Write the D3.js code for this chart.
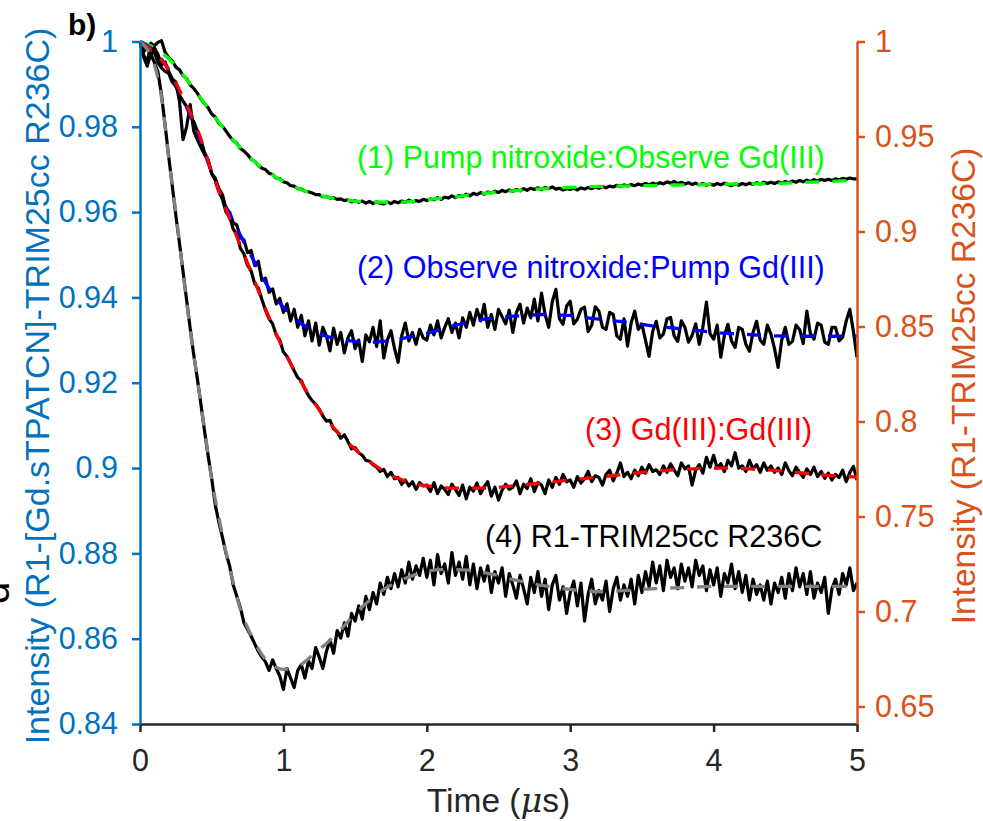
<!DOCTYPE html>
<html>
<head>
<meta charset="utf-8">
<script src="https://cdn.jsdelivr.net/npm/d3@7"></script>
<style>
  html, body { margin: 0; padding: 0; background: #fff; }
  #chart svg { display: block; font-family: "Liberation Sans", Arial, Helvetica, sans-serif; }
</style>
</head>
<body>
<div id="chart"></div>
<script>
// ---------------------------------------------------------------------------
// DATA
// ---------------------------------------------------------------------------

// sampling grid of the measured traces, in µs (one row below = 0.2 µs)
const traceTime = d3.range(0, 5.0001, 0.025);

// (1) Pump nitroxide:Observe Gd(III) - left axis
const trace1 = [
  1.0000, 0.9992, 0.9985, 0.9996, 0.9990, 0.9998, 1.0002, 0.9975,
  0.9962, 0.9955, 0.9940, 0.9934, 0.9920, 0.9913, 0.9898, 0.9890,
  0.9879, 0.9865, 0.9854, 0.9845, 0.9830, 0.9823, 0.9808, 0.9801,
  0.9790, 0.9778, 0.9768, 0.9762, 0.9749, 0.9743, 0.9735, 0.9724,
  0.9719, 0.9710, 0.9703, 0.9700, 0.9691, 0.9688, 0.9680, 0.9678,
  0.9671, 0.9669, 0.9662, 0.9661, 0.9655, 0.9654, 0.9649, 0.9648,
  0.9645, 0.9641, 0.9641, 0.9636, 0.9637, 0.9633, 0.9634, 0.9630,
  0.9631, 0.9627, 0.9629, 0.9624, 0.9627, 0.9623, 0.9626, 0.9621,
  0.9625, 0.9620, 0.9624, 0.9621, 0.9619, 0.9624, 0.9620, 0.9625,
  0.9622, 0.9626, 0.9623, 0.9628, 0.9624, 0.9627, 0.9625, 0.9630,
  0.9627, 0.9631, 0.9629, 0.9634, 0.9630, 0.9635, 0.9633, 0.9638,
  0.9634, 0.9639, 0.9637, 0.9642, 0.9638, 0.9644, 0.9641, 0.9646,
  0.9642, 0.9647, 0.9645, 0.9649, 0.9646, 0.9651, 0.9648, 0.9652,
  0.9649, 0.9653, 0.9650, 0.9655, 0.9651, 0.9656, 0.9653, 0.9657,
  0.9653, 0.9658, 0.9655, 0.9659, 0.9654, 0.9656, 0.9652, 0.9655,
  0.9653, 0.9656, 0.9652, 0.9657, 0.9654, 0.9658, 0.9655, 0.9659,
  0.9656, 0.9660, 0.9657, 0.9661, 0.9659, 0.9663, 0.9660, 0.9664,
  0.9661, 0.9665, 0.9662, 0.9666, 0.9663, 0.9667, 0.9664, 0.9668,
  0.9665, 0.9669, 0.9666, 0.9671, 0.9668, 0.9672, 0.9667, 0.9670,
  0.9666, 0.9669, 0.9665, 0.9668, 0.9664, 0.9667, 0.9663, 0.9666,
  0.9663, 0.9667, 0.9664, 0.9668, 0.9665, 0.9662, 0.9666, 0.9663,
  0.9667, 0.9664, 0.9668, 0.9665, 0.9669, 0.9666, 0.9670, 0.9667,
  0.9670, 0.9667, 0.9671, 0.9668, 0.9672, 0.9669, 0.9673, 0.9670,
  0.9674, 0.9671, 0.9675, 0.9672, 0.9676, 0.9673, 0.9677, 0.9674,
  0.9677, 0.9674, 0.9678, 0.9676, 0.9679, 0.9677, 0.9680, 0.9678,
  0.9678
];

// (2) Observe nitroxide:Pump Gd(III) - left axis
const trace2 = [
  1.0000, 0.9975, 0.9990, 0.9962, 0.9985, 0.9970, 0.9945, 0.9952,
  0.9930, 0.9912, 0.9905, 0.9860, 0.9770, 0.9800, 0.9852, 0.9790,
  0.9770, 0.9752, 0.9735, 0.9722, 0.9690, 0.9680, 0.9655, 0.9641,
  0.9608, 0.9600, 0.9575, 0.9570, 0.9540, 0.9535, 0.9505, 0.9510,
  0.9475, 0.9485, 0.9440, 0.9445, 0.9412, 0.9420, 0.9385, 0.9398,
  0.9365, 0.9385, 0.9345, 0.9372, 0.9330, 0.9358, 0.9310, 0.9345,
  0.9298, 0.9340, 0.9288, 0.9330, 0.9310, 0.9275, 0.9328, 0.9290,
  0.9318, 0.9270, 0.9305, 0.9322, 0.9280, 0.9300, 0.9250, 0.9312,
  0.9296, 0.9330, 0.9285, 0.9345, 0.9258, 0.9300, 0.9322, 0.9280,
  0.9248, 0.9310, 0.9340, 0.9298, 0.9318, 0.9290, 0.9325, 0.9305,
  0.9300, 0.9335, 0.9312, 0.9345, 0.9305, 0.9330, 0.9350, 0.9318,
  0.9340, 0.9305, 0.9352, 0.9330, 0.9365, 0.9335, 0.9372, 0.9345,
  0.9384, 0.9330, 0.9360, 0.9325, 0.9372, 0.9355, 0.9338, 0.9370,
  0.9318, 0.9365, 0.9384, 0.9340, 0.9375, 0.9352, 0.9396, 0.9345,
  0.9410, 0.9360, 0.9330, 0.9390, 0.9419, 0.9350, 0.9337, 0.9380,
  0.9391, 0.9338, 0.9349, 0.9372, 0.9377, 0.9320, 0.9335, 0.9378,
  0.9368, 0.9330, 0.9325, 0.9365, 0.9360, 0.9310, 0.9302, 0.9350,
  0.9286, 0.9340, 0.9368, 0.9325, 0.9337, 0.9300, 0.9262, 0.9320,
  0.9344, 0.9305, 0.9314, 0.9350, 0.9353, 0.9310, 0.9297, 0.9345,
  0.9330, 0.9295, 0.9311, 0.9338, 0.9290, 0.9330, 0.9389, 0.9315,
  0.9302, 0.9335, 0.9260, 0.9310, 0.9337, 0.9298, 0.9283, 0.9330,
  0.9325, 0.9290, 0.9274, 0.9318, 0.9344, 0.9300, 0.9290, 0.9335,
  0.9314, 0.9280, 0.9236, 0.9300, 0.9330, 0.9290, 0.9297, 0.9335,
  0.9325, 0.9292, 0.9368, 0.9315, 0.9302, 0.9340, 0.9335, 0.9295,
  0.9290, 0.9330, 0.9330, 0.9298, 0.9307, 0.9345, 0.9372, 0.9320,
  0.9260
];

// (3) Gd(III):Gd(III) - left axis
const trace3 = [
  1.0000, 0.9968, 0.9953, 0.9990, 0.9977, 0.9950, 0.9938, 0.9930,
  0.9925, 0.9905, 0.9895, 0.9875, 0.9860, 0.9848, 0.9826, 0.9812,
  0.9790, 0.9768, 0.9740, 0.9722, 0.9690, 0.9675, 0.9648, 0.9630,
  0.9600, 0.9590, 0.9560, 0.9548, 0.9515, 0.9502, 0.9475, 0.9462,
  0.9432, 0.9422, 0.9395, 0.9370, 0.9350, 0.9338, 0.9312, 0.9300,
  0.9272, 0.9262, 0.9245, 0.9228, 0.9212, 0.9205, 0.9185, 0.9170,
  0.9158, 0.9150, 0.9138, 0.9122, 0.9110, 0.9112, 0.9092, 0.9085,
  0.9070, 0.9078, 0.9062, 0.9045, 0.9048, 0.9036, 0.9030, 0.9018,
  0.9016, 0.9008, 0.9002, 0.8992, 0.8997, 0.8980, 0.8990, 0.8975,
  0.8978, 0.8962, 0.8972, 0.8958, 0.8968, 0.8950, 0.8966, 0.8958,
  0.8960, 0.8945, 0.8966, 0.8940, 0.8958, 0.8950, 0.8938, 0.8962,
  0.8950, 0.8936, 0.8960, 0.8928, 0.8955, 0.8946, 0.8965, 0.8940,
  0.8956, 0.8968, 0.8934, 0.8955, 0.8925, 0.8948, 0.8962, 0.8950,
  0.8955, 0.8970, 0.8940, 0.8962, 0.8952, 0.8975, 0.8945, 0.8966,
  0.8960, 0.8940, 0.8972, 0.8955, 0.8978, 0.8962, 0.8985, 0.8968,
  0.8972, 0.8955, 0.8980, 0.8965, 0.8975, 0.8992, 0.8968, 0.8982,
  0.8978, 0.8960, 0.8985, 0.8995, 0.8970, 0.8988, 0.9012, 0.8980,
  0.8990, 0.8975, 0.8995, 0.8982, 0.9002, 0.8988, 0.9008, 0.8992,
  0.8996, 0.8985, 0.9005, 0.8990, 0.9010, 0.8995, 0.8982, 0.9012,
  0.8998, 0.9005, 0.8960, 0.8995, 0.9008, 0.8988, 0.9025, 0.9002,
  0.9030, 0.9000, 0.9010, 0.8992, 0.9018, 0.9005, 0.9036, 0.9000,
  0.9005, 0.8992, 0.9018, 0.8998, 0.9008, 0.8990, 0.9012, 0.8995,
  0.9005, 0.8990, 0.9000, 0.8985, 0.9012, 0.8994, 0.8982, 0.9002,
  0.8990, 0.8978, 0.8998, 0.8985, 0.9002, 0.8980, 0.8992, 0.8976,
  0.8988, 0.8972, 0.8985, 0.8978, 0.8995, 0.8968, 0.8990, 0.9004,
  0.8972
];

// (4) R1-TRIM25cc R236C - right axis
const trace4 = [
  1.0000, 0.9920, 0.9870, 0.9935, 0.9890, 0.9840, 0.9720, 0.9560,
  0.9395, 0.9240, 0.9085, 0.8940, 0.8790, 0.8640, 0.8490, 0.8350,
  0.8225, 0.8090, 0.7950, 0.7820, 0.7700, 0.7560, 0.7470, 0.7390,
  0.7305, 0.7240, 0.7140, 0.7080, 0.7020, 0.6940, 0.6905, 0.6870,
  0.6830, 0.6790, 0.6760, 0.6735, 0.6690, 0.6745, 0.6700, 0.6660,
  0.6590, 0.6700, 0.6650, 0.6600, 0.6690, 0.6720, 0.6650, 0.6740,
  0.6700, 0.6810, 0.6760, 0.6700, 0.6790, 0.6850, 0.6780, 0.6900,
  0.6860, 0.6940, 0.6870, 0.6990, 0.6950, 0.7030, 0.6960, 0.7080,
  0.7010, 0.7100, 0.7040, 0.7150, 0.7090, 0.7180, 0.7120, 0.7200,
  0.7130, 0.7220, 0.7150, 0.7260, 0.7170, 0.7240, 0.7190, 0.7280,
  0.7180, 0.7270, 0.7140, 0.7300, 0.7200, 0.7250, 0.7150, 0.7310,
  0.7190, 0.7260, 0.7170, 0.7290, 0.7140, 0.7250, 0.7120, 0.7230,
  0.7160, 0.7240, 0.7100, 0.7210, 0.7150, 0.7230, 0.7080, 0.7200,
  0.7140, 0.7070, 0.7190, 0.7120, 0.7040, 0.7180, 0.7100, 0.7210,
  0.7080, 0.7170, 0.7010, 0.7140, 0.7190, 0.7060, 0.7130, 0.6990,
  0.7100, 0.7160, 0.7030, 0.7150, 0.6950, 0.7090, 0.7170, 0.7040,
  0.7110, 0.7060, 0.7160, 0.7000, 0.7120, 0.7180, 0.7060, 0.7140,
  0.7080, 0.7170, 0.7040, 0.7190, 0.7100, 0.7210, 0.7130, 0.7260,
  0.7150, 0.7240, 0.7110, 0.7270, 0.7180, 0.7230, 0.7120, 0.7250,
  0.7160, 0.7230, 0.7130, 0.7270, 0.7190, 0.7240, 0.7110, 0.7220,
  0.7140, 0.7230, 0.7080, 0.7200, 0.7150, 0.7250, 0.7120, 0.7210,
  0.7100, 0.7190, 0.7060, 0.7170, 0.7090, 0.7140, 0.7060, 0.7160,
  0.7040, 0.7150, 0.7100, 0.7180, 0.7070, 0.7200, 0.7110, 0.7230,
  0.7130, 0.7200, 0.7090, 0.7210, 0.7070, 0.7150, 0.7100, 0.7180,
  0.6990, 0.7120, 0.7170, 0.7090, 0.7200, 0.7140, 0.7230, 0.7110,
  0.7150
];

// fitted curves (dashed)
const fit1Time = [0, 0.1, 0.2, 0.3, 0.4, 0.5, 0.6, 0.7, 0.8, 0.9, 1.0, 1.1, 1.2, 1.3, 1.4, 1.5, 1.6, 1.8,
  2.0, 2.2, 2.4, 2.6, 3.0, 3.5, 4.0, 4.5, 5.0];
const fit1 = [1.0000, 0.9985, 0.9960, 0.9922, 0.9878, 0.9832, 0.9789, 0.9751, 0.9718, 0.9692, 0.9672,
  0.9656, 0.9644, 0.9636, 0.9630, 0.9626, 0.9624, 0.9623, 0.9629, 0.9636, 0.9644, 0.9650, 0.9658,
  0.9662, 0.9665, 0.9668, 0.9675];

const fit2Time = [0, 0.1, 0.2, 0.3, 0.4, 0.5, 0.6, 0.7, 0.8, 0.9, 1.0, 1.1, 1.2, 1.3, 1.4, 1.5, 1.6, 1.7,
  1.8, 1.9, 2.0, 2.1, 2.2, 2.3, 2.4, 2.5, 2.6, 2.7, 2.8, 2.9, 3.0, 3.1, 3.2, 3.3, 3.4, 3.5, 3.6, 3.7,
  3.8, 3.9, 4.0, 4.2, 4.4, 4.6, 4.8, 5.0];
const fit2 = [1.0000, 0.9977, 0.9934, 0.9864, 0.9787, 0.9693, 0.9613, 0.9546, 0.9482, 0.9421, 0.9377,
  0.9345, 0.9323, 0.9309, 0.9302, 0.9297, 0.9295, 0.9297, 0.9302, 0.9309, 0.9316, 0.9325, 0.9335,
  0.9342, 0.9349, 0.9353, 0.9356, 0.9358, 0.9360, 0.9359, 0.9358, 0.9353, 0.9349, 0.9345, 0.9342,
  0.9337, 0.9332, 0.9329, 0.9325, 0.9322, 0.9318, 0.9314, 0.9310, 0.9309, 0.9309, 0.9309];

const fit3Time = [0, 0.1, 0.2, 0.3, 0.4, 0.5, 0.6, 0.7, 0.8, 0.9, 1.0, 1.1, 1.2, 1.3, 1.4, 1.5, 1.6, 1.7,
  1.8, 1.9, 2.0, 2.2, 2.4, 2.6, 2.8, 3.0, 3.2, 3.4, 3.6, 3.8, 4.0, 4.2, 4.4, 4.6, 4.8, 5.0];
const fit3 = [1.0000, 0.9974, 0.9934, 0.9869, 0.9794, 0.9695, 0.9606, 0.9522, 0.9438, 0.9353, 0.9278,
  0.9215, 0.9161, 0.9114, 0.9077, 0.9044, 0.9016, 0.8993, 0.8976, 0.8965, 0.8958, 0.8953, 0.8953,
  0.8958, 0.8965, 0.8972, 0.8979, 0.8986, 0.8993, 0.8997, 0.9000, 0.8999, 0.8995, 0.8989, 0.8983,
  0.8979];

const fit4Time = [0, 0.05, 0.1, 0.15, 0.2, 0.25, 0.3, 0.35, 0.4, 0.45, 0.5, 0.55, 0.6, 0.65, 0.7, 0.75,
  0.8, 0.85, 0.9, 0.95, 1.0, 1.05, 1.1, 1.2, 1.3, 1.4, 1.5, 1.6, 1.7, 1.8, 1.9, 2.0, 2.1, 2.2, 2.3,
  2.4, 2.5, 2.6, 2.7, 2.8, 2.9, 3.0, 3.2, 3.4, 3.6, 3.8, 4.0, 4.5, 5.0];
const fit4 = [1.0000, 0.9958, 0.9879, 0.9705, 0.9389, 0.9100, 0.8784, 0.8484, 0.8221, 0.7958, 0.7695,
  0.7495, 0.7311, 0.7153, 0.7011, 0.6916, 0.6837, 0.6774, 0.6726, 0.6705, 0.6695, 0.6700, 0.6711,
  0.6768, 0.6832, 0.6905, 0.6989, 0.7058, 0.7116, 0.7158, 0.7189, 0.7211, 0.7221, 0.7221, 0.7218,
  0.7205, 0.7189, 0.7168, 0.7153, 0.7137, 0.7126, 0.7116, 0.7105, 0.7111, 0.7121, 0.7126, 0.7132,
  0.7132, 0.7132];

// ticks
const xTicks = [0, 1, 2, 3, 4, 5];
const leftTicks = [0.84, 0.86, 0.88, 0.9, 0.92, 0.94, 0.96, 0.98, 1];
const rightTicks = [0.65, 0.7, 0.75, 0.8, 0.85, 0.9, 0.95, 1];

// curve annotations: text, anchor time, anchor value (left axis)
const noteText = ["(1) Pump nitroxide:Observe Gd(III)", "(2) Observe nitroxide:Pump Gd(III)",
  "(3) Gd(III):Gd(III)", "(4) R1-TRIM25cc R236C"];
const noteTime = [1.513, 1.513, 3.103, 2.406];
const noteValue = [0.9703, 0.9446, 0.9066, 0.8815];

// ---------------------------------------------------------------------------
// CHART
// ---------------------------------------------------------------------------
const W = 983, H = 821;
const plot = { left: 140, right: 857, top: 41.5, bottom: 724 };

const colors = {
  left: "#0072BD",
  right: "#D95319",
  axis: "#262626",
  trace: "#000000",
  fits: ["#00FF00", "#0000FF", "#FF0000", "#808080"],
  notes: ["#00FF00", "#0000FF", "#FF0000", "#000000"]
};

const svg = d3.select("#chart").append("svg")
  .attr("width", W)
  .attr("height", H);

// 1. SCALES
const x = d3.scaleLinear().domain([0, 5]).range([plot.left, plot.right]);
const yLeft = d3.scaleLinear().domain([0.84, 1]).range([plot.bottom, plot.top]);
const yRight = d3.scaleLinear().domain([0.6408, 1]).range([plot.bottom, plot.top]);

const fmt = d => String(+d.toFixed(2));

// 2. TRACES (black, noisy) then FITS (dashed) on top
const traces = [
  { v: trace4, y: yRight },
  { v: trace3, y: yLeft },
  { v: trace2, y: yLeft },
  { v: trace1, y: yLeft }
];
const fits = [
  { t: fit1Time, v: fit1, y: yLeft, c: colors.fits[0] },
  { t: fit2Time, v: fit2, y: yLeft, c: colors.fits[1] },
  { t: fit3Time, v: fit3, y: yLeft, c: colors.fits[2] },
  { t: fit4Time, v: fit4, y: yRight, c: colors.fits[3] }
];

const lineG = svg.append("g");
traces.forEach(s => {
  const line = d3.line()
    .x((d, i) => x(traceTime[i]))
    .y(d => s.y(d));
  lineG.append("path")
    .datum(s.v)
    .attr("fill", "none")
    .attr("stroke", colors.trace)
    .attr("stroke-width", 3.2)
    .attr("stroke-linejoin", "round")
    .attr("d", line);
});

fits.forEach(s => {
  const line = d3.line()
    .curve(d3.curveMonotoneX)
    .x((d, i) => x(s.t[i]))
    .y(d => s.y(d));
  lineG.append("path")
    .datum(s.v)
    .attr("fill", "none")
    .attr("stroke", s.c)
    .attr("stroke-width", 3.3)
    .attr("stroke-dasharray", "14,13")
    .attr("d", line);
});

// 3. AXES
const styleAxis = (g, color) => {
  g.attr("font-family", null).attr("font-size", null);
  g.select(".domain").attr("stroke", color).attr("stroke-width", 2.5);
  g.selectAll(".tick line").attr("stroke", color).attr("stroke-width", 2.5);
  g.selectAll(".tick text").attr("fill", color).style("font-size", "30.5px");
};

svg.append("g")
  .attr("transform", `translate(0,${plot.bottom})`)
  .call(d3.axisBottom(x).tickValues(xTicks).tickFormat(fmt).tickSize(8).tickSizeOuter(0).tickPadding(17))
  .call(g => styleAxis(g, colors.axis));

svg.append("g")
  .attr("transform", `translate(${plot.left},0)`)
  .call(d3.axisLeft(yLeft).tickValues(leftTicks).tickFormat(fmt).tickSize(8).tickSizeOuter(0).tickPadding(14))
  .call(g => styleAxis(g, colors.left));

svg.append("g")
  .attr("transform", `translate(${plot.right},0)`)
  .call(d3.axisRight(yRight).tickValues(rightTicks).tickFormat(fmt).tickSize(8).tickSizeOuter(0).tickPadding(10))
  .call(g => styleAxis(g, colors.right));

// 4. AXIS LABELS
svg.append("text")
  .attr("transform", `translate(49,386) rotate(-90)`)
  .attr("text-anchor", "middle")
  .attr("fill", colors.left)
  .style("font-size", "34px")
  .text("Intensity (R1-[Gd.sTPATCN]-TRIM25cc R236C)");

svg.append("text")
  .attr("transform", `translate(975,386) rotate(-90)`)
  .attr("text-anchor", "middle")
  .attr("fill", colors.right)
  .style("font-size", "33.5px")
  .text("Intensity (R1-TRIM25cc R236C)");

const xLabel = svg.append("text")
  .attr("x", (plot.left + plot.right) / 2)
  .attr("y", 812)
  .attr("text-anchor", "middle")
  .attr("fill", colors.axis)
  .style("font-size", "33.5px");
xLabel.append("tspan").text("Time (");
xLabel.append("tspan").style("font-style", "italic").style("font-family", "'DejaVu Serif', serif").text("μ");
xLabel.append("tspan").text("s)");

// panel letter and a clipped glyph from the neighbouring panel
svg.append("text")
  .attr("x", 68).attr("y", 35)
  .style("font-size", "30px").style("font-weight", "bold")
  .text("b)");

svg.append("text")
  .attr("transform", "translate(9,604) rotate(-90)")
  .style("font-size", "40px")
  .attr("fill", "#000")
  .text("d");

// 5. CURVE ANNOTATIONS
svg.append("g").selectAll("text")
  .data(noteText)
  .join("text")
  .attr("x", (d, i) => x(noteTime[i]))
  .attr("y", (d, i) => yLeft(noteValue[i]))
  .attr("fill", (d, i) => colors.notes[i])
  .style("font-size", "30.5px")
  .text(d => d);
</script>
</body>
</html>
